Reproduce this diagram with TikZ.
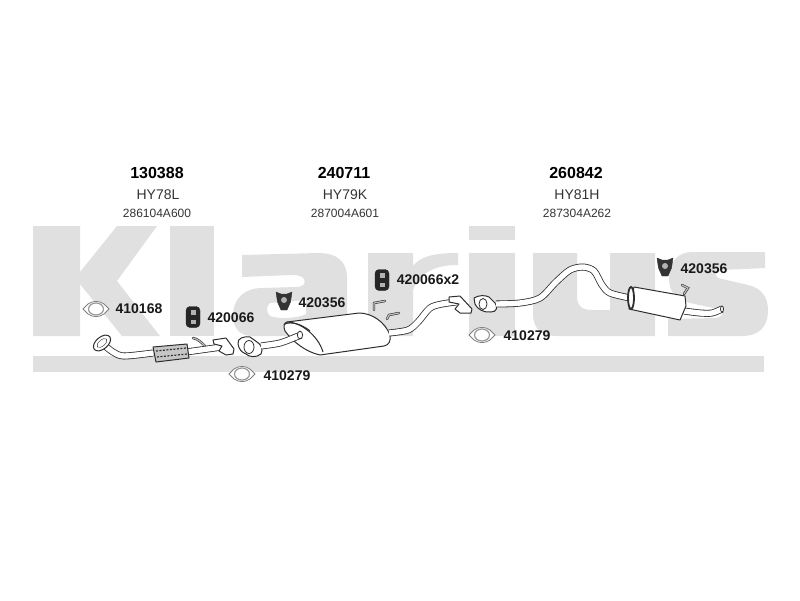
\documentclass[tikz,border=0pt]{standalone}
\usepackage{fontspec}
\setmainfont{Liberation Sans}
\definecolor{logogray}{HTML}{E0E0E0}
\definecolor{partline}{HTML}{2E2E2E}
\tikzset{
  partno/.style={font=\bfseries\fontsize{16}{16}\selectfont, text=black},
  typeno/.style={font=\fontsize{14}{14}\selectfont, text=black!80},
  oemno/.style={font=\fontsize{12}{12}\selectfont, text=black!80},
  itemno/.style={font=\bfseries\fontsize{14}{14}\selectfont, text=black!90},
  logo/.style={fill=logogray, draw=none},
  pipe/.style={draw=partline, line width=0.8pt, double=white, double distance=5.4pt},
  shell/.style={draw=partline, line width=1pt, fill=white, line join=round},
  hook/.style={draw=partline, line width=0.6pt, double=gray!50, double distance=1.2pt, line cap=round},
  gasket/.pic={
    \draw[gray, line width=0.8pt, fill=white] (-13,0) -- (-8,-5) .. controls (-3,-8.5) and (3,-8.5) .. (8,-5) -- (13,0) -- (8,5) .. controls (3,8.5) and (-3,8.5) .. (-8,5) -- cycle;
    \draw[gray!80, line width=1.2pt] (0,0) ellipse (7.5 and 6);
  },
  hanger/.pic={
    \draw[black!85, fill=black!85, rounded corners=4pt] (-7,-10.5) rectangle (7,10.5);
    \fill[gray!60] (-2.5,-7) rectangle (2.5,-2.5);
    \fill[gray!60] (-2.5,2.5) rectangle (2.5,7);
  },
  bracket/.pic={
    \draw[black!80, fill=black!80, line join=round] (-8,-9) -- (-3,-7) -- (3,-7) -- (8,-9) -- (6.5,1) -- (3,9) -- (-3,9) -- (-6.5,1) -- cycle;
    \fill[gray!60] (0,-1) circle (3);
  }
}
\begin{document}
\begin{tikzpicture}[x=1pt, y=-1pt]
\useasboundingbox (0,0) rectangle (800,600);

% logo
\fill[logo] (33,226) -- (80,226) -- (80,272) -- (117,226) -- (157,226) -- (117,281) -- (160,336) -- (122,336) -- (80,284) -- (80,336) -- (33,336) -- cycle;
\fill[logo] (170,226) rectangle (214,336);
\fill[logo, even odd rule] (242,255) -- (318,253) .. controls (338,253) and (347,262) .. (347,278) -- (347,336) -- (252,336) .. controls (240,336) and (233,328) .. (233,316) .. controls (233,298) and (245,288) .. (262,288) -- (296,287) .. controls (304,287) and (306,283) .. (304,279) .. controls (302,276) and (298,275) .. (292,275) -- (242,277) -- cycle
  (270,303) -- (306,300) -- (306,314) .. controls (296,319) and (278,319) .. (270,316) .. controls (266,312) and (266,306) .. (270,303) -- cycle;
\fill[logo] (368,253) -- (413,253) -- (413,266) .. controls (420,257) and (432,253) .. (458,253) -- (458,265) .. controls (436,265) and (420,272) .. (413,290) -- (413,336) -- (368,336) -- cycle;
\fill[logo] (469,226) rectangle (515,240);
\fill[logo] (469,253) rectangle (515,336);
\fill[logo] (533,253) -- (577,253) -- (577,296) .. controls (577,306) and (582,310) .. (592,310) -- (610,310) -- (610,253) -- (655,253) -- (655,336) -- (556,336) .. controls (541,336) and (533,328) .. (533,314) -- cycle;
\fill[logo] (692,252) -- (765,252) -- (765,268) -- (722,270) .. controls (716,271) and (714,275) .. (718,278) -- (748,285) .. controls (762,288) and (768,298) .. (768,310) .. controls (768,328) and (758,336) .. (742,336) -- (668,336) -- (668,319) -- (716,318) .. controls (724,317) and (724,311) .. (718,309) -- (690,303) .. controls (676,300) and (669,292) .. (669,278) .. controls (669,262) and (678,252) .. (692,252) -- cycle;
\fill[logo] (33,356) rectangle (764,372);

% part numbers
\node[partno] (parta) at (157,173) {130388};
\node[typeno] (typea) at (158,195) {HY78L};
\node[oemno] (oema) at (157,213) {286104A600};
\node[partno] (partb) at (344,173) {240711};
\node[typeno] (typeb) at (345,195) {HY79K};
\node[oemno] (oemb) at (345,213) {287004A601};
\node[partno] (partc) at (576,173) {260842};
\node[typeno] (typec) at (577,195) {HY81H};
\node[oemno] (oemc) at (577,213) {287304A262};

% front pipe
\draw[hook] (193,338) .. controls (198,339) and (201,342) .. (205,346);
\draw[pipe] plot[smooth] coordinates {(104,345) (113,352) (124,356) (153,353)};
\draw[pipe] (186,352) -- (222,347);
\draw[shell, rotate around={40:(102,343)}] (102,343) ellipse (10 and 6);
\draw[partline, fill=white, rotate around={40:(102,343)}] (102,343) ellipse (6 and 3);
\draw[shell, fill=gray!45] (153,347) -- (187,344) -- (189,358) -- (156,362) -- cycle;
\draw[partline, line width=1.2pt, dash pattern=on 2pt off 1.5pt] (156,351) -- (186,348) (157,357) -- (187,354);
\draw[shell] (213,340) -- (226,338) -- (234,349) -- (233,354) -- (226,355) -- (219,351) -- (222,346) -- (214,344) -- cycle;

% middle pipe and silencer
\draw[shell] (238,344) .. controls (237,338) and (244,336) .. (250,337) -- (257,342) .. controls (262,345) and (263,350) .. (261,354) .. controls (256,358) and (249,357) .. (246,354) .. controls (241,352) and (239,349) .. (238,344) -- cycle;
\draw[partline, fill=white, line width=0.8pt] (249,347) ellipse (5 and 6.5);
\draw[shell] (287,322) -- (359,313) .. controls (372,313) and (385,322) .. (390,335) .. controls (391,341) and (389,345) .. (384,346) -- (320,355) .. controls (306,352) and (293,342) .. (285,331) .. controls (283,326) and (284,323) .. (287,322) -- cycle;
\draw[partline, line width=1pt] (287,322) .. controls (300,322) and (318,335) .. (323,352);
\draw[partline, line width=1pt] (284,325) .. controls (286,322) and (298,321) .. (310,331);
\draw[pipe] plot[smooth] coordinates {(261,346) (280,343) (296,337) (301,335)};
\draw[partline, fill=white, line width=0.8pt] (300,335) ellipse (2.6 and 3.8);
\draw[hook] (374,310) -- (374,303) -- (385,301);
\draw[hook] (387,319) -- (389,315) -- (399,313);
\draw[pipe] plot[smooth] coordinates {(389,333) (408,330) (418,322) (430,308) (442,304) (456,302)};
\draw[shell] (449,297) -- (460,296) -- (472,309) -- (471,313) -- (460,313) -- (455,309) -- (459,304) -- (449,302) -- cycle;

% rear pipe and silencer
\draw[shell] (474,298) .. controls (479,295) and (485,295) .. (489,297) -- (495,303) .. controls (498,307) and (497,312) .. (491,312) .. controls (484,313) and (477,309) .. (475,304) -- cycle;
\draw[partline, fill=white, line width=0.8pt] (483,304) ellipse (4 and 5.5);
\draw[pipe] plot[smooth] coordinates {(496,304) (520,303) (540,298) (556,282) (570,270) (583,267) (594,271) (602,285) (610,293) (630,298)};
\draw[pipe] plot[smooth] coordinates {(684,311) (700,313) (712,313) (722,309)};
\draw[partline, fill=white, line width=0.8pt] (722,309) ellipse (1.5 and 3);
\draw[shell] (634,287) -- (685,296) -- (686,306) -- (680,320) -- (629,309) -- cycle;
\draw[partline, line width=1.8pt, fill=white] (631,298) ellipse (3 and 11);
\draw[hook] (682,285) -- (688,288) -- (684,294);

% small parts
\pic at (96,309) {gasket};
\pic at (242,374) {gasket};
\pic at (482,335) {gasket};
\pic at (193,317) {hanger};
\pic at (382,280) {hanger};
\pic at (284,301) {bracket};
\pic at (665,267) {bracket};

% item numbers
\node[itemno] (itema) at (139,309) {410168};
\node[itemno] (itemb) at (231,318) {420066};
\node[itemno] (itemc) at (322,303) {420356};
\node[itemno] (itemd) at (287,376) {410279};
\node[itemno] (iteme) at (428,280) {420066x2};
\node[itemno] (itemf) at (527,336) {410279};
\node[itemno] (itemg) at (704,269) {420356};

\end{tikzpicture}
\end{document}
